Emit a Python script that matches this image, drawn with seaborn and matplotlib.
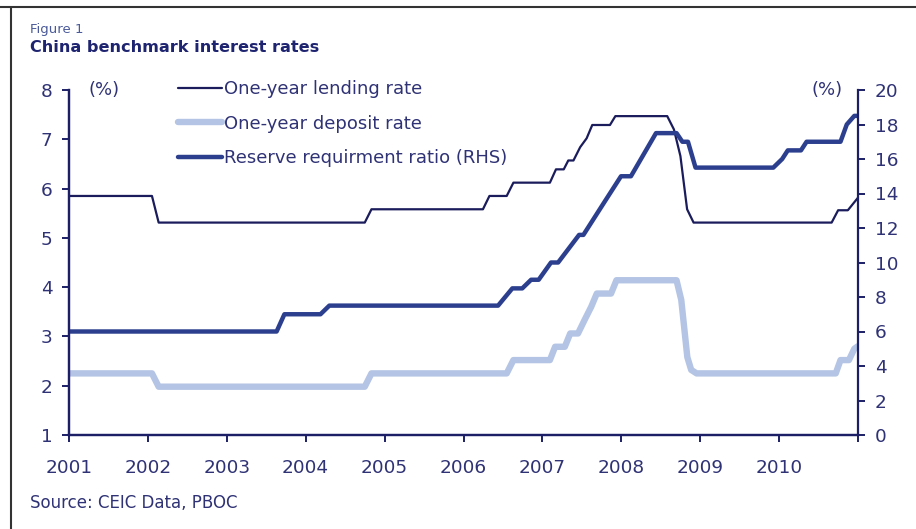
import matplotlib.pyplot as plt
from matplotlib.lines import Line2D
import pandas as pd
import seaborn as sns

# Ettårig utlånsrente (venstre akse, %)
utlan_datoer = ["2001-01-01", "2002-01-20", "2002-02-20", "2004-10-01", "2004-11-01",
                "2006-04-01", "2006-05-01", "2006-07-20", "2006-08-20", "2007-02-05",
                "2007-03-05", "2007-04-10", "2007-05-01", "2007-05-25", "2007-06-25",
                "2007-07-25", "2007-08-20", "2007-11-10", "2007-12-05", "2008-08-01",
                "2008-09-01", "2008-10-01", "2008-11-01", "2008-12-01", "2010-09-01",
                "2010-10-01", "2010-11-15", "2010-12-31"]
utlan_rente = [5.85, 5.85, 5.31, 5.31, 5.58,
               5.58, 5.85, 5.85, 6.12, 6.12,
               6.39, 6.39, 6.57, 6.57, 6.84,
               7.02, 7.29, 7.29, 7.47, 7.47,
               7.20, 6.66, 5.58, 5.31, 5.31,
               5.56, 5.56, 5.81]

# Ettårig innskuddsrente (venstre akse, %)
innskudd_datoer = ["2001-01-01", "2002-01-20", "2002-02-20", "2004-10-01", "2004-11-01",
                   "2006-07-20", "2006-08-20", "2007-02-05", "2007-03-01", "2007-04-15",
                   "2007-05-10", "2007-06-15", "2007-07-15", "2007-08-15", "2007-09-10",
                   "2007-11-15", "2007-12-10", "2008-09-13", "2008-10-05", "2008-11-02",
                   "2008-11-20", "2008-12-15", "2010-09-20", "2010-10-12", "2010-11-20",
                   "2010-12-15", "2010-12-31"]
innskudd_rente = [2.25, 2.25, 1.98, 1.98, 2.25,
                  2.25, 2.52, 2.52, 2.79, 2.79,
                  3.06, 3.06, 3.33, 3.60, 3.87,
                  3.87, 4.14, 4.14, 3.74, 2.58,
                  2.32, 2.25, 2.25, 2.52, 2.52,
                  2.75, 2.80]

# Reservekrav (høyre akse, %)
reserve_datoer = ["2001-01-01", "2003-08-20", "2003-09-25", "2004-03-10", "2004-04-20",
                  "2006-06-10", "2006-08-15", "2006-09-30", "2006-11-10", "2006-12-15",
                  "2007-02-10", "2007-03-15", "2007-06-20", "2007-07-10", "2007-10-15",
                  "2007-12-31", "2008-02-15", "2008-06-10", "2008-09-13", "2008-10-10",
                  "2008-11-05", "2008-12-10", "2009-12-05", "2010-01-15", "2010-02-10",
                  "2010-04-12", "2010-05-08", "2010-10-12", "2010-11-10", "2010-12-15",
                  "2010-12-31"]
reserve_krav = [6.0, 6.0, 7.0, 7.0, 7.5,
                7.5, 8.5, 8.5, 9.0, 9.0,
                10.0, 10.0, 11.6, 11.6, 13.5,
                15.0, 15.0, 17.5, 17.5, 17.0,
                17.0, 15.5, 15.5, 16.0, 16.5,
                16.5, 17.0, 17.0, 18.0, 18.5,
                18.5]

aar = list(range(2001, 2012))
aar_etiketter = [str(a) for a in range(2001, 2011)] + [""]

NAVY = "#1c1f66"
TEKST = "#2f3275"
UTLAN_FARGE = "#1a1c5c"
INNSKUDD_FARGE = "#b4c4e4"
RESERVE_FARGE = "#2c3f8e"

df_utlan = pd.DataFrame({"dato": pd.to_datetime(utlan_datoer), "rente": utlan_rente})
df_innskudd = pd.DataFrame({"dato": pd.to_datetime(innskudd_datoer), "rente": innskudd_rente})
df_reserve = pd.DataFrame({"dato": pd.to_datetime(reserve_datoer), "krav": reserve_krav})

sns.set_style("ticks")
plt.rcParams["font.family"] = ["DejaVu Sans"]

fig = plt.figure(figsize=(9.16, 5.29), dpi=100)
ax = fig.add_axes([69 / 916, 1 - 435 / 529, (858 - 69) / 916, (435 - 90) / 529])
ax2 = ax.twinx()

sns.lineplot(data=df_innskudd, x="dato", y="rente", ax=ax, color=INNSKUDD_FARGE,
             linewidth=4.6, estimator=None, sort=False)
sns.lineplot(data=df_utlan, x="dato", y="rente", ax=ax, color=UTLAN_FARGE,
             linewidth=1.6, estimator=None, sort=False)
sns.lineplot(data=df_reserve, x="dato", y="krav", ax=ax2, color=RESERVE_FARGE,
             linewidth=3.2, estimator=None, sort=False)

ax.set_xlim(pd.Timestamp("2001-01-01"), pd.Timestamp("2011-01-01"))
ax.set_ylim(1, 8)
ax2.set_ylim(0, 20)
ax.set_xticks([pd.Timestamp(f"{a}-01-01") for a in aar])
ax.set_xticklabels(aar_etiketter)
ax.set_yticks(range(1, 9))
ax2.set_yticks(range(0, 21, 2))
ax.set_xlabel("")
ax.set_ylabel("")
ax2.set_ylabel("")

for a in (ax, ax2):
    a.spines["top"].set_visible(False)
    for s in ("left", "right", "bottom"):
        a.spines[s].set_color(NAVY)
        a.spines[s].set_linewidth(1.6)
    a.tick_params(colors=NAVY, labelcolor=TEKST, labelsize=13.3, length=5, width=1.4)
ax.spines["right"].set_visible(False)
ax.tick_params(axis="x", pad=12)
ax.tick_params(axis="y", pad=7)
ax2.tick_params(axis="y", pad=7)

ax.text(0.025, 1.0, "(%)", transform=ax.transAxes, color=TEKST, fontsize=13,
        va="center", ha="left")
ax.text(0.98, 1.0, "(%)", transform=ax.transAxes, color=TEKST, fontsize=13,
        va="center", ha="right")

handles = [
    Line2D([], [], color=UTLAN_FARGE, linewidth=1.6),
    Line2D([], [], color=INNSKUDD_FARGE, linewidth=4.6),
    Line2D([], [], color=RESERVE_FARGE, linewidth=3.2),
]
labels = ["One-year lending rate", "One-year deposit rate", "Reserve requirment ratio (RHS)"]
leg = fig.legend(handles, labels, loc="upper left", bbox_to_anchor=(178 / 916, 1 - 80 / 529),
                 frameon=False, fontsize=13, handlelength=2.45, handletextpad=0.1,
                 labelspacing=0.92, borderpad=0, borderaxespad=0)
for t in leg.get_texts():
    t.set_color(TEKST)

fig.text(30 / 916, 1 - 29 / 529, "Figure 1", fontsize=9.5, color="#4a5a9a", va="center")
fig.text(30 / 916, 1 - 48 / 529, "China benchmark interest rates", fontsize=11.6,
         fontweight="bold", color="#1f2470", va="center")
fig.text(30 / 916, 1 - 503 / 529, "Source: CEIC Data, PBOC", fontsize=12,
         color=TEKST, va="center")

# Ramme langs topp og venstre kant
fig.add_artist(Line2D([0, 1], [1 - 6.5 / 529, 1 - 6.5 / 529], color="#333333",
                      linewidth=1.5, transform=fig.transFigure))
fig.add_artist(Line2D([10.5 / 916, 10.5 / 916], [0, 1 - 6.5 / 529], color="#333333",
                      linewidth=1.5, transform=fig.transFigure))

fig.savefig("out.png", dpi=100)
